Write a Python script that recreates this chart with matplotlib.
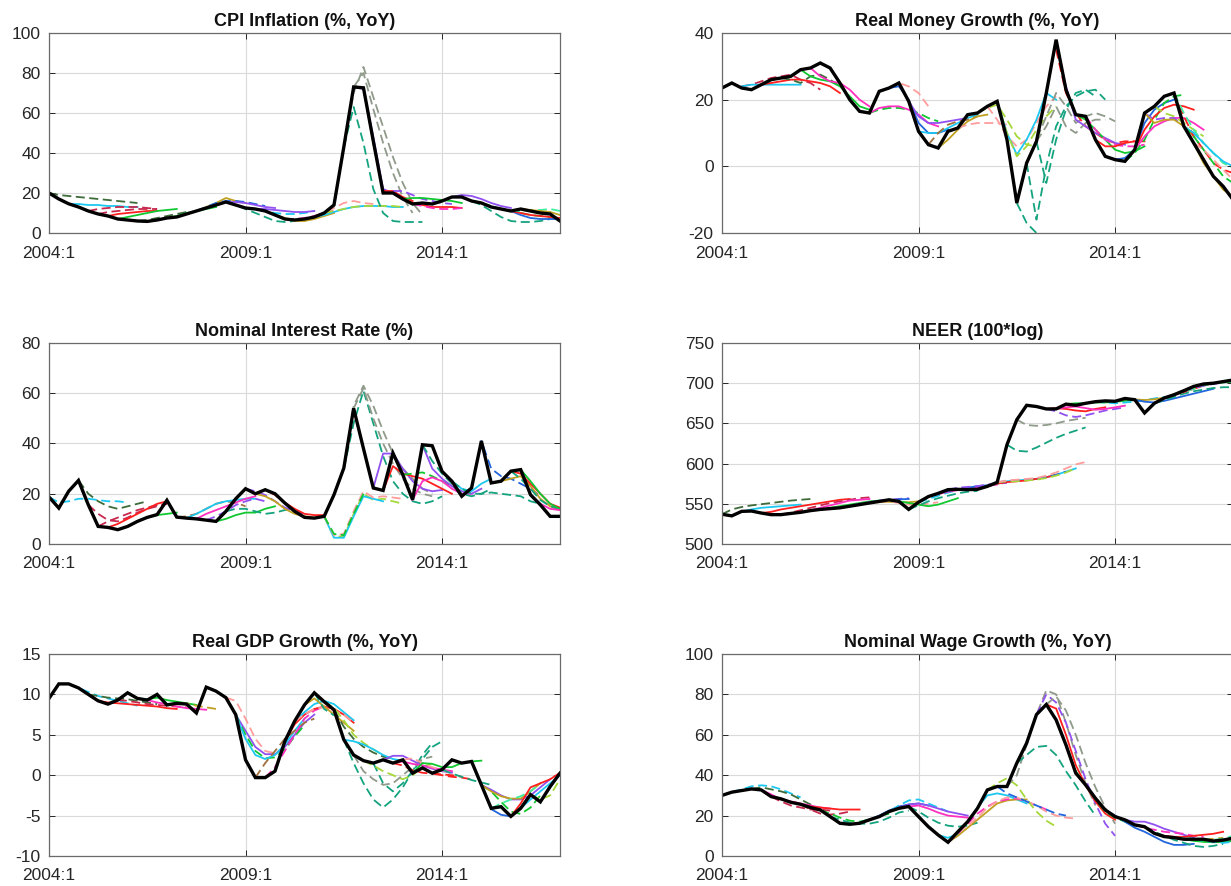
import matplotlib
matplotlib.use("Agg")
import matplotlib.pyplot as plt
import numpy as np

plt.rcParams['font.family'] = ['Liberation Sans', 'DejaVu Sans']
plt.rcParams['axes.unicode_minus'] = False

# ---------------- data (quarterly, 2004:1 .. 2017:1) ----------------
xtick_pos = [0, 20, 40]
xtick_labels = ['2004:1', '2009:1', '2014:1']

titles = ['CPI Inflation (%, YoY)', 'Real Money Growth (%, YoY)',
          'Nominal Interest Rate (%)', 'NEER (100*log)',
          'Real GDP Growth (%, YoY)', 'Nominal Wage Growth (%, YoY)']

cpi_actual = [20, 17, 14.6, 13, 11, 9.5, 8.5, 7, 6.5, 6, 5.8, 6.5, 7.5, 8, 9.5, 11,
              12.5, 14, 15.5, 14, 12.5, 12, 11, 9, 7, 6.5, 7, 8, 10, 14, 43, 73,
              72.6, 46, 20, 20, 17, 14.5, 15, 14.5, 16, 18, 18, 16, 15, 13, 12, 11,
              12, 11, 10, 9.5, 6]
money_actual = [23.5, 25, 23.5, 23, 24.5, 26, 26.5, 27, 29, 29.5, 31, 29.5, 25, 20,
                16.5, 16, 22.5, 23.5, 25, 19.5, 10.5, 6.5, 5.5, 10.5, 11.5, 15.5, 16,
                18, 19.5, 8, -11, 1, 7.5, 22, 38, 23, 15.5, 15, 8, 3, 2, 1.5, 5, 16,
                18, 21, 22, 12, 7, 2, -3, -6, -10]
rate_actual = [18.7, 14.3, 21, 25.3, 15.6, 7, 6.6, 5.7, 7, 9, 10.6, 11.7, 17.4, 10.7,
               10.3, 10, 9.5, 9, 13, 18, 22, 20, 21.6, 20, 16.3, 13, 10.6, 10.3, 11,
               19.6, 30.2, 54, 38, 22.3, 21.3, 36.2, 27.6, 17.6, 39.5, 39.1, 28.9, 25,
               19, 22.3, 41, 24.3, 25, 29, 29.6, 19.6, 15.6, 11, 11]
neer_actual = [537, 535, 540.6, 541, 538.5, 536.5, 536.5, 538, 539.4, 541.5, 543, 544,
               545, 547, 549, 551, 553, 555, 553, 543, 552, 559, 563, 567.6, 568,
               567.6, 568, 571.7, 576.7, 623.5, 654.6, 672.5, 671, 668, 668, 674,
               672.5, 675, 677, 678, 677.5, 681, 679.5, 663, 675, 681.6, 685.7, 690.7,
               696, 699, 700, 702, 704]
gdp_actual = [9.5, 11.3, 11.3, 10.8, 10, 9.2, 8.8, 9.3, 10.2, 9.5, 9.3, 10, 8.7, 8.9,
              8.8, 7.7, 10.9, 10.4, 9.6, 7.5, 1.9, -0.3, -0.3, 0.5, 4.2, 6.7, 8.7, 10.2,
              9.1, 8.1, 4.4, 2.5, 1.8, 1.5, 1.9, 1.5, 1.9, 0.25, 0.9, 0.25, 0.7, 1.9,
              1.5, 1.7, -1.2, -4.1, -3.9, -5.1, -4.1, -2.4, -3.3, -1.4, 0.25]
wage_actual = [30, 31.6, 32.4, 33.2, 32.7, 29.4, 28.3, 26.6, 25.6, 24, 22.8, 19.5,
               16.2, 15.7, 16.2, 17.9, 19.5, 22, 23.6, 24.5, 19.5, 14.5, 10.4, 6.8, 12,
               17, 23.6, 32.7, 34.4, 34.4, 46, 55.9, 70, 75, 67.4, 55, 41, 35.2, 28.6,
               22.8, 19.5, 17.9, 15.4, 14.5, 11.2, 9.6, 9.1, 8.3, 8.3, 8.3, 7.4, 7.9, 8.8]

# forecast paths: (first quarter index, colour key, values)
cpi_forecasts = [
    (0, 'DG', [20, 19, 18.5, 18, 17.5, 17, 16.5, 16, 15.5, 15]),
    (2, 'C', [14.5, 14.5, 14, 14, 13.5, 13.5, 13, 13]),
    (4, 'CR', [11, 12, 12.5, 13, 13, 13, 12.5, 12]),
    (5, 'CR', [9.5, 10.5, 11, 11.5, 12, 12, 12]),
    (6, 'R', [8.5, 9.5, 10, 10.5, 11, 11]),
    (7, 'G', [7, 8, 9, 10, 11, 11.5, 12]),
    (9, 'DG', [6, 6.5, 7.5, 8.5, 9.5, 10.5]),
    (12, 'G', [7.5, 8.5, 10, 11, 12, 13]),
    (14, 'O', [9.5, 11, 13, 15, 17.5, 16, 15]),
    (15, 'B', [11, 13, 15, 16, 16, 15.5, 14.5, 13.5]),
    (16, 'P', [12.5, 14, 15.5, 15.5, 15, 14, 13, 12.5]),
    (18, 'TG', [15.5, 14, 12, 10, 8, 6, 5.5, 6]),
    (20, 'C', [12.5, 12, 11, 10, 9.5, 9.5, 10, 11]),
    (21, 'P', [12, 12, 11.5, 11, 10.5, 10.5, 11]),
    (23, 'O', [9, 7.5, 6, 6, 7, 8.5, 10]),
    (24, 'M', [7, 7, 7.5, 8.5, 10, 11]),
    (27, 'PK', [8, 10, 12.5, 15, 16, 15, 14.5]),
    (27, 'C', [8, 9, 10.5, 12, 13, 13.5, 13.5, 13.5, 13, 13]),
    (28, 'LG', [10, 11, 12, 13, 13.5, 13.5, 13.5, 13.5, 13]),
    (30, 'TG', [43, 63, 45, 22, 10, 6, 5.5, 5.5, 5.5]),
    (30, 'GR', [43, 70, 83, 68, 53, 38, 25, 15, 9]),
    (31, 'GR', [73, 80, 62, 45, 30, 18, 10]),
    (31, 'P', [73, 72, 48, 22, 20, 17]),
    (32, 'R', [72.6, 45, 21, 21, 18, 16]),
    (35, 'P', [21, 21, 19, 17, 16, 15, 14.5]),
    (36, 'G', [17, 17.5, 17.5, 17, 16.5, 16, 15]),
    (36, 'R', [17, 15, 14, 13, 13, 13, 12.5]),
    (37, 'M', [14.5, 13.5, 12.5, 12, 12, 12.5]),
    (40, 'P', [16, 18, 19, 18.5, 17, 15, 13.5, 12.5]),
    (43, 'TG', [16, 14, 11, 8, 6, 5.5, 5.5, 6, 7]),
    (44, 'G', [15, 13.5, 12, 11, 10, 9, 8.5, 8, 7.5]),
    (45, 'B', [13, 12, 11, 9, 7.5, 7, 7, 7]),
    (46, 'R', [12, 11, 10, 9, 8.5, 8, 7.5]),
    (47, 'SG', [11, 11, 11.5, 11.5, 12, 11]),
    (48, 'O', [12, 11.5, 11, 10.5, 9]),
]
money_forecasts = [
    (2, 'CR', [24, 24.5, 25.5, 26.5, 27, 27.5, 26, 25, 23]),
    (2, 'C', [24, 24.5, 24.5, 24.5, 24.5, 24.5, 24.5]),
    (4, 'R', [24.5, 25, 25.5, 26, 26, 25.5, 25, 24, 22]),
    (6, 'DG', [26.5, 26, 25, 27, 27.5, 26, 24]),
    (8, 'G', [29, 27, 26, 25.5, 24, 21, 18, 17]),
    (9, 'M', [29.5, 27, 25.5, 25, 23, 20, 18]),
    (15, 'G', [16, 17, 17.5, 17.5, 17, 16, 14.5, 13.5]),
    (15, 'M', [16, 17.5, 18, 18, 17, 15.5, 13, 12]),
    (16, 'B', [22.5, 23.5, 24, 20, 13, 10, 10, 11]),
    (17, 'PK', [23.5, 25, 24, 22, 18]),
    (19, 'P', [19.5, 15, 13, 13, 13.5, 14, 14.5]),
    (20, 'C', [10.5, 10, 10, 11.5, 13, 14.5, 15.5]),
    (21, 'BR', [6.5, 10, 12.5, 13.5, 14, 15]),
    (22, 'O', [5.5, 8, 11, 13.5, 15, 15.5]),
    (24, 'PK', [11.5, 12.5, 13, 13, 13, 12.5]),
    (26, 'LG', [16, 17.5, 18.5, 14, 9, 6.5, 6]),
    (27, 'PK', [18, 14, 9, 6, 8, 13, 18, 21]),
    (28, 'C', [19.5, 10, 3.5, 8, 14, 22, 20]),
    (28, 'LG', [19.5, 10, 3, 6, 11, 15, 18]),
    (30, 'TG', [-11, -17, -20]),
    (31, 'TG', [1, -16, 0, 12, 18, 21, 22.5, 23, 20]),
    (32, 'TG', [7.5, -5, 8, 17, 22, 23, 21]),
    (31, 'GR', [1, 8, 15, 22, 18, 13, 15, 16, 15, 13.5]),
    (32, 'GR', [7.5, 12, 18, 12, 10, 13, 14, 14]),
    (34, 'R', [35, 22, 16, 12, 10, 8, 7, 7.5, 7.5]),
    (34, 'P', [37, 24, 14, 12, 10, 8.5, 7, 6.5]),
    (36, 'G', [15.5, 14, 11, 8, 5, 4, 4.5, 6]),
    (37, 'M', [15, 11, 8, 6.5, 6, 6, 6.5]),
    (38, 'R', [8, 6, 6, 7, 7.5, 7.5]),
    (40, 'B', [2, 2.5, 5, 13, 17, 19, 20]),
    (41, 'G', [1.5, 4, 8, 14, 19, 21, 21.5]),
    (42, 'R', [5, 11, 15, 17.5, 18.5, 18, 17]),
    (42, 'M', [5, 9, 12, 13.5, 14.5, 14.5, 13, 11]),
    (43, 'P', [16, 14, 14.5, 14.5, 12, 10, 7]),
    (43, 'O', [16, 13, 14, 14, 12, 9]),
    (44, 'LG', [18, 16, 15, 13, 11, 9]),
    (46, 'R', [22, 15, 9, 5, 1, -1, -2]),
    (46, 'SG', [22, 16, 11, 7, 4, 1, -0.5]),
    (47, 'C', [12, 10, 7, 4, 1.5, 0]),
    (47, 'G', [12, 9, 5, 1, -3, -5]),
    (48, 'O', [7, 1, -3, -7, -9]),
    (48, 'PK', [7, 5, 2, -1, -4]),
]
rate_forecasts = [
    (0, 'C', [18.7, 16.5, 17, 18, 18, 17.5, 17, 17, 16.5]),
    (3, 'DG', [25.3, 20, 17, 15, 14, 15, 16, 17]),
    (4, 'CR', [15.6, 12, 9.5, 9, 10.5, 12.5, 14, 15, 16]),
    (5, 'CR', [7, 9, 10.5, 12, 13.5, 14.5, 15.5, 16]),
    (6, 'R', [6.6, 8, 10, 12, 14, 16, 17]),
    (7, 'G', [5.7, 7, 9, 10.5, 11.5, 12, 12.5]),
    (13, 'BR', [10.7, 11, 12, 14, 16, 17, 16.5, 15]),
    (14, 'C', [10.3, 12, 14, 16, 17, 17.5, 18, 18]),
    (15, 'M', [10, 12, 13.5, 15, 16.5, 18, 19]),
    (16, 'P', [9.5, 11, 13, 15.5, 17, 18, 17]),
    (17, 'G', [9, 10, 11.5, 12.5, 12.5, 14, 15]),
    (18, 'TG', [13, 14, 14, 13, 12, 12.5, 13.5, 14]),
    (20, 'P', [22, 21, 19.5, 17, 14.5, 13, 12]),
    (21, 'O', [20, 19, 17, 14, 12, 11, 10.5]),
    (22, 'R', [21.6, 19.5, 16.5, 14, 12, 11.5, 11.5]),
    (28, 'LG', [11, 3, 3, 12, 20, 17.5, 18, 17, 16]),
    (28, 'C', [11, 2.5, 2.5, 11, 19, 18, 17]),
    (28, 'PK', [11, 3.5, 4, 13, 21, 18.5, 19, 18.5, 18]),
    (28, 'G', [11, 4, 3.5, 12, 20]),
    (30, 'TG', [30, 48, 61, 48, 35, 25, 20, 17, 16, 17, 19]),
    (30, 'GR', [30, 55, 63, 55, 45, 36, 30, 26, 22, 20]),
    (31, 'GR', [54, 62, 50, 40, 32, 26, 22, 20, 19]),
    (33, 'P', [22.3, 36, 36, 30, 25, 22, 21, 21.5]),
    (34, 'R', [21.3, 31, 28, 27, 26, 24, 22, 20]),
    (36, 'G', [27.6, 28, 28.5, 27, 25, 23, 21]),
    (37, 'M', [17.6, 25, 26.5, 25, 22, 20, 20]),
    (38, 'P', [39.5, 30, 26, 23, 21, 20, 22]),
    (38, 'TG', [39.5, 33, 28, 24, 20, 19, 20, 22]),
    (40, 'C', [28.9, 25, 22, 21, 24, 26]),
    (41, 'TG', [25, 22, 20, 20, 20.5, 20, 19.5, 19, 17, 16]),
    (43, 'B', [22.3, 41, 30, 27, 26, 24, 22, 19]),
    (46, 'O', [25, 26, 27, 23, 18, 15, 13.5]),
    (47, 'R', [29, 28, 24, 20, 16, 14.5]),
    (47, 'TG', [29, 26, 22, 17.5, 15, 14]),
    (48, 'G', [29.6, 25, 20, 16, 14]),
    (49, 'M', [19.6, 16, 14, 13.5]),
]
neer_forecasts = [
    (0, 'DG', [537, 543, 546, 548, 549.5, 551, 552.5, 554, 555, 556]),
    (1, 'C', [535, 540, 543, 545, 546, 547, 548, 549]),
    (4, 'R', [538.5, 540, 543, 545, 547, 549, 551, 553, 555, 556]),
    (6, 'CR', [536.5, 539, 542, 545, 548, 551, 553, 555, 557, 558]),
    (8, 'M', [539.4, 542, 545, 548, 551, 554, 555, 556]),
    (9, 'G', [541.5, 543, 545, 547, 549, 551, 553, 554]),
    (12, 'P', [545, 547.5, 550, 552, 554, 555, 556, 557]),
    (13, 'B', [547, 549, 551, 553, 554.5, 555.5, 556]),
    (14, 'O', [549, 551, 552, 552.5, 552, 552, 553]),
    (16, 'PK', [553, 553, 551, 549, 549, 550, 552]),
    (18, 'G', [553, 551, 549, 547, 549, 553, 557]),
    (19, 'TG', [543, 548, 553, 557, 560, 563, 565, 566]),
    (20, 'C', [552, 556, 560, 564, 567, 569, 571, 572]),
    (21, 'M', [559, 562, 565, 567, 569, 570, 572, 574]),
    (22, 'B', [563, 566, 568, 570, 572, 573, 575]),
    (23, 'P', [567.6, 570, 571, 572, 574, 575, 576]),
    (27, 'C', [571.7, 575, 578, 579, 580, 581, 583, 586, 590, 594]),
    (27, 'R', [571.7, 575, 577, 578, 579, 581, 583, 586]),
    (28, 'B', [576.7, 578.5, 579, 580, 581, 583, 586, 590]),
    (28, 'LG', [576.7, 578, 578, 579, 580, 582, 585, 589, 594]),
    (28, 'PK', [576.7, 579, 580, 581, 582, 585, 589, 594, 599, 602]),
    (29, 'TG', [623.5, 616, 615, 620, 626, 632, 637, 641, 645]),
    (30, 'GR', [654.6, 648, 647, 648, 650, 653, 655, 657]),
    (32, 'R', [671, 668, 669, 668, 666, 665, 668, 670]),
    (33, 'P', [668, 665, 660, 658, 660, 663, 666, 668, 670]),
    (34, 'M', [668, 670, 671, 669, 667, 668, 670, 672]),
    (35, 'G', [674, 675, 675, 676, 676, 677, 678, 679]),
    (38, 'C', [677, 676, 675, 676, 677, 679, 681, 683]),
    (40, 'O', [677.5, 680, 680, 679, 680, 682, 684]),
    (42, 'B', [679.5, 677, 676, 678, 681, 684, 687, 690, 693]),
    (44, 'TG', [675, 679, 683, 687, 690, 692, 694, 695, 695]),
    (45, 'R', [681.6, 685, 689, 693, 697, 700, 702, 703]),
    (46, 'SG', [685.7, 689, 693, 697, 700, 701, 702]),
    (47, 'P', [690.7, 694, 697, 699, 701, 702]),
    (48, 'G', [696, 698, 700, 701, 702]),
]
gdp_forecasts = [
    (2, 'C', [11.3, 10.8, 10.3, 9.8, 9.5, 9.2, 8.9, 8.6]),
    (4, 'DG', [10, 9.8, 9.6, 9.5, 9.4, 9.2, 9, 8.8]),
    (5, 'R', [9.2, 9, 8.9, 8.8, 8.7, 8.6, 8.5, 8.3, 8.2]),
    (7, 'CR', [9.3, 9.2, 9, 8.8, 8.7, 8.6, 8.5, 8.4]),
    (9, 'G', [9.5, 9.4, 9.6, 9.3, 9.1, 8.9, 8.7]),
    (10, 'M', [9.3, 9, 8.8, 8.5, 8.3, 8.2, 8.1]),
    (12, 'O', [8.7, 8.8, 8.9, 8.6, 8.4, 8.2]),
    (18, 'PK', [9.6, 9.2, 7, 4.5, 3, 2.7, 3.5, 5, 6.5]),
    (19, 'P', [7.5, 5.5, 3.5, 2.6, 2.6, 3.5, 5, 6.5, 7.5]),
    (19, 'G', [7.5, 5, 3, 2.1, 2.2, 3.2, 4.8, 6.2]),
    (19, 'C', [7.5, 4.5, 2.5, 2.0, 2.5, 3.8, 5.5, 7]),
    (21, 'BR', [-0.3, 1.5, 3, 4.5, 5.5, 6.5, 7]),
    (22, 'M', [-0.3, 1, 3, 5, 7, 8, 8.5]),
    (24, 'R', [4.2, 6.3, 7.5, 8.2, 8.5, 8.2, 7.5, 6.5]),
    (25, 'C', [6.7, 7.8, 8.8, 9.2, 8.8, 7.8, 6.8]),
    (25, 'PK', [6.7, 7.5, 8.2, 8.4, 8, 7.5, 6.5]),
    (26, 'O', [8.7, 9.5, 8.5, 7.5, 6.5, 5.5]),
    (27, 'TG', [10.2, 8.2, 7.4]),
    (28, 'LG', [9.1, 8.3, 6.8, 5, 4, 3.2, 2.5]),
    (29, 'DG', [8.1, 6, 4.5, 3.5, 2.8, 2.3, 2]),
    (30, 'C', [4.4, 4.2, 3.8, 3.2, 2.5, 2, 1.8]),
    (30, 'TG', [4.4, 1.5, -1, -3, -4, -3, -1.5, 0.5, 2.5, 4]),
    (33, 'TG', [1.5, -1, -2, -1, 0.5, 2, 3.5, 4.2]),
    (31, 'GR', [2.5, 0.5, -0.5, -1.2, -1, 0, 1, 2, 2.3]),
    (32, 'LG', [1.8, 1.2, 0.5, 0, -0.5, 0, 1, 1.5]),
    (34, 'P', [1.9, 2.4, 2.4, 1.8, 1.2, 0.8, 0.5, 0.3]),
    (35, 'M', [1.5, 1.7, 1.4, 1.2, 0.9, 0.7, 0.5]),
    (35, 'R', [1.5, 1.2, 0.6, 0.3, 0.2, 0.1, 0, -0.2]),
    (36, 'PK', [1.9, 2.1, 1.5, 1.0, 0.6, 0.3]),
    (37, 'G', [0.25, 1.5, 1.4, 1.0, 1.0, 1.5, 1.7, 1.8]),
    (38, 'R', [0.9, 0.2, 0, -0.2, -0.3, -0.5]),
    (40, 'TG', [0.7, 0.2, -0.2, -0.6, -0.9, -1.2]),
    (43, 'B', [1.7, -1.2, -4.2, -4.9, -5.1, -4, -2.5]),
    (44, 'G', [-1.2, -2, -3.3, -4.5, -4.8, -4, -2.5]),
    (44, 'P', [-1.2, -1.8, -2.5, -3, -3, -2.5, -1.5, -0.5]),
    (44, 'O', [-1.2, -2, -2.6, -2.9, -2.9, -2, -1]),
    (45, 'SG', [-4.1, -3.5, -3, -2.6, -2, -1]),
    (47, 'R', [-5.1, -3.5, -1.5, -1, -0.5, 0.3]),
    (48, 'C', [-4.1, -3, -2, -1, 0]),
    (49, 'LG', [-2.4, -3, -2.5, -0.5]),
    (50, 'B', [-3.3, -1.5, 0.2]),
]
wage_forecasts = [
    (1, 'C', [31.6, 33, 34.5, 35, 34.5, 33, 31, 29]),
    (3, 'DG', [33.2, 34, 33, 32, 30.5, 28, 25.5, 23]),
    (4, 'M', [32.7, 30.5, 28, 27, 26, 25, 24, 23.5]),
    (5, 'CR', [29.4, 27, 25, 24, 23, 23, 22.5]),
    (7, 'R', [26.6, 25.5, 24.5, 24, 23.5, 23, 23, 23]),
    (8, 'CR', [25.6, 23, 21, 20.5, 21, 22]),
    (10, 'G', [22.8, 21, 19, 17.5, 17, 18, 19.5, 21]),
    (11, 'TG', [19.5, 18, 16.5, 16, 16, 17, 19, 21.5, 22.5]),
    (14, 'B', [16.2, 18, 20, 22.5, 24.5, 25.5, 26, 25]),
    (16, 'C', [19.5, 22, 25, 27.5, 28, 26, 24, 22]),
    (17, 'P', [22, 24, 25.5, 26, 25, 23.5, 22, 21, 20]),
    (18, 'M', [23.6, 24.5, 25, 23.5, 21.5, 20, 19.5, 19]),
    (19, 'TG', [24.5, 22, 19, 16.5, 15, 14.5, 15, 16.5]),
    (22, 'C', [10.4, 9, 11, 17, 24, 30, 31, 30, 28, 26]),
    (23, 'O', [6.8, 10, 14, 18, 22, 26, 27.5, 28, 28]),
    (23, 'M', [6.8, 11, 16, 21, 24.5, 27, 28, 28.5, 27, 25, 23]),
    (24, 'PK', [12, 15, 19, 24, 27, 29, 29, 27, 25, 22, 20, 19, 18.5]),
    (27, 'LG', [32.7, 36, 38.5, 35, 28, 22, 17.5, 14.5]),
    (28, 'B', [34.4, 31, 29, 27, 25, 23, 21, 20]),
    (29, 'GR', [34.4, 40, 55, 70, 82, 80, 66, 50, 36, 25]),
    (30, 'TG', [46, 50, 54, 54.5, 50, 42, 35, 27, 20]),
    (32, 'P', [70, 80, 76, 66, 52, 38, 26, 16, 10]),
    (33, 'GR', [75, 79, 72, 60, 46, 34, 24, 16]),
    (33, 'R', [75, 73, 60, 45, 35, 27, 21, 18]),
    (34, 'G', [67.4, 55, 42, 35, 28, 22, 19, 17, 15]),
    (39, 'B', [22.8, 20, 17, 14, 12, 9.5, 7, 5.5, 5.5, 6]),
    (41, 'P', [17.9, 17, 17, 15.5, 13.5, 12, 10.5, 9]),
    (42, 'M', [15.4, 14, 13, 12, 11.5, 11, 10, 9.5]),
    (43, 'TG', [14.5, 12, 10, 8, 6.5, 5, 4.5, 5, 6]),
    (44, 'R', [11.2, 10, 9.5, 9.5, 10, 10.5, 11, 12]),
    (45, 'O', [9.6, 9, 8.5, 8, 8, 8.5, 9]),
    (46, 'SG', [9.1, 9, 8.5, 8.2, 8, 8.5, 10]),
    (47, 'G', [8.3, 7.5, 7, 6.8, 7, 7.5]),
    (48, 'C', [8.3, 7.5, 7, 6.5, 7]),
]

y_limits = [(0, 100), (-20, 40), (0, 80), (500, 750), (-10, 15), (0, 100)]
y_ticks = [[0, 20, 40, 60, 80, 100], [-20, 0, 20, 40], [0, 20, 40, 60, 80],
           [500, 550, 600, 650, 700, 750], [-10, -5, 0, 5, 10, 15],
           [0, 20, 40, 60, 80, 100]]

colours = {'DG': '#3d6b3a', 'GR': '#8f9a8a', 'TG': '#14a37f', 'R': '#ff1f1f',
           'M': '#ff2fc0', 'B': '#2266dd', 'C': '#1cc8f0', 'P': '#9150f0',
           'O': '#c0a020', 'PK': '#ff9c9c', 'LG': '#a6d83a', 'G': '#10c830',
           'CR': '#c8284e', 'BR': '#a0703e', 'SG': '#40eea0'}
dashed_keys = {'DG', 'GR', 'TG', 'PK', 'LG', 'CR', 'BR', 'SG'}

actuals = [cpi_actual, money_actual, rate_actual, neer_actual, gdp_actual, wage_actual]
forecasts = [cpi_forecasts, money_forecasts, rate_forecasts, neer_forecasts,
             gdp_forecasts, wage_forecasts]

# ---------------- figure ----------------
W, H = 1231, 886
fig = plt.figure(figsize=(W / 100, H / 100), dpi=100)
lefts_px = [49, 722]
rows_px = [(33, 233), (343, 544), (654, 856)]
ax_w_px = 511

for k in range(6):
    r, c = divmod(k, 2)
    top, bot = rows_px[r]
    ax = fig.add_axes([lefts_px[c] / W, 1 - bot / H, ax_w_px / W, (bot - top) / H])
    ax.set_xlim(0, 52)
    ax.set_ylim(*y_limits[k])
    ax.set_yticks(y_ticks[k])
    ax.set_xticks(xtick_pos)
    ax.set_xticklabels(xtick_labels)
    ax.grid(True, color='#dadada', lw=0.8)
    ax.set_axisbelow(True)
    ax.tick_params(direction='in', top=True, right=True, length=4, width=0.7,
                   colors='#262626', labelsize=12.5)
    ax.tick_params(axis='x', pad=9)
    ax.tick_params(axis='y', pad=6)
    for sp in ax.spines.values():
        sp.set_color('#6a6a6a')
        sp.set_linewidth(0.9)
    ax.set_title(titles[k], fontsize=13, fontweight='bold', pad=5, color='#111111')

    for j, (start, key, vals) in enumerate(forecasts[k]):
        xs = np.arange(start, start + len(vals))
        ls = (0, (5, 2.5)) if (key in dashed_keys or j % 3 == 0) else '-'
        ax.plot(xs, vals, color=colours[key], lw=1.3, ls=ls)
    act = actuals[k]
    ax.plot(np.arange(len(act)), act, color='black', lw=2.4, solid_joinstyle='miter')

fig.savefig('out.png', dpi=100)
